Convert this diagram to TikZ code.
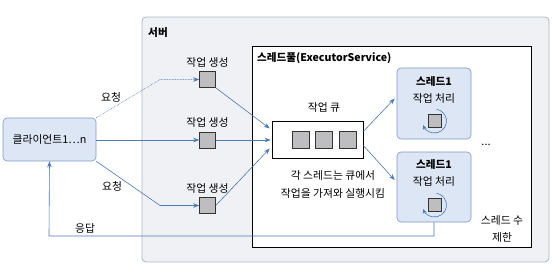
\documentclass[tikz,border=0pt]{standalone}
\usepackage{fontspec}
\setmainfont{Noto Sans CJK KR}
\usetikzlibrary{arrows.meta,calc}
\definecolor{arr}{HTML}{4A7AB8}
\definecolor{srvfill}{HTML}{EFF1F5}
\definecolor{srvdraw}{HTML}{A9B5C9}
\definecolor{bluefill}{HTML}{DDE6F4}
\definecolor{bluedraw}{HTML}{7D99C3}
\definecolor{sqfill}{HTML}{BEBEC0}
\begin{document}
\begin{tikzpicture}[x=1pt,y=-1pt,
  txt/.style={font=\fontsize{10.8}{12}\selectfont, inner sep=0pt},
  btxt/.style={font=\fontsize{10.6}{12}\selectfont\bfseries, inner sep=0pt},
  sq/.style={draw=black!80, fill=sqfill, line width=0.6pt, minimum size=16pt, inner sep=0pt},
  ssq/.style={draw=black!80, fill=sqfill, line width=0.6pt, minimum size=13pt, inner sep=0pt},
  bluebox/.style={draw=bluedraw, fill=bluefill, rounded corners=4pt, line width=0.6pt},
  conn/.style={draw=arr, line width=0.6pt, -{Stealth[length=6pt,width=4.5pt]}},
]
\useasboundingbox (0,0) rectangle (555,268);
% server
\draw[draw=srvdraw, fill=srvfill, rounded corners=4pt, line width=0.8pt] (142,17) rectangle (549,262);
\node[btxt] (srv) at (158,33) {서버};
% pool
\draw[draw=black, fill=white, line width=0.6pt] (252,46) rectangle (531,247);
\node[btxt, anchor=west] (pool) at (257,58) {스레드풀(ExecutorService)};
% client
\node[bluebox, minimum width=93pt, minimum height=43pt, inner sep=0pt] (client) at (49.5,139.5) {};
\node[txt] (clienttxt) at (49.5,139.5) {클라이언트1…n};
% generators
\node[sq] (g1) at (207.5,79.5) {};
\node[sq] (g2) at (207.5,140) {};
\node[sq] (g3) at (207.5,205.5) {};
\node[txt] (l1) at (207.5,62) {작업 생성};
\node[txt] (l2) at (207.5,122) {작업 생성};
\node[txt] (l3) at (207.5,188) {작업 생성};
% queue
\node[draw=black, fill=white, line width=0.6pt, minimum width=91pt, minimum height=37pt, inner sep=0pt] (queue) at (317.5,139.5) {};
\node[sq, minimum size=17pt] (q1) at (301,139.5) {};
\node[sq, minimum size=17pt] (q2) at (324,139.5) {};
\node[sq, minimum size=17pt] (q3) at (348,139.5) {};
\node[txt] (qlabel) at (324,107) {작업 큐};
% threads
\node[bluebox, minimum width=74pt, minimum height=71pt, inner sep=0pt] (t1) at (434,103.5) {};
\node[btxt] (t1a) at (434,82) {스레드1};
\node[txt] (t1b) at (434,98) {작업 처리};
\node[ssq] (t1s) at (434.5,121) {};
\node[bluebox, minimum width=74pt, minimum height=70pt, inner sep=0pt] (t2) at (434,187) {};
\node[btxt] (t2a) at (434,165) {스레드1};
\node[txt] (t2b) at (434,181) {작업 처리};
\node[ssq] (t2s) at (434.5,205) {};
\draw[draw=arr, line width=0.6pt, -{Stealth[length=4.5pt,width=4pt]}] ($(t1s)+(-80:12)$) arc[start angle=-80, end angle=160, radius=12];
\draw[draw=arr, line width=0.6pt, -{Stealth[length=4.5pt,width=4pt]}] ($(t2s)+(-80:12)$) arc[start angle=-80, end angle=160, radius=12];
% texts
\node[txt] (dots) at (486,145) {...};
\node[txt] (lim1) at (502,220) {스레드 수};
\node[txt] (lim2) at (502,237) {제한};
\node[txt] (ex1) at (333,175) {각 스레드는 큐에서};
\node[txt] (ex2) at (333,193) {작업을 가져와 실행시킴};
\node[txt] (req1) at (111,97) {요청};
\node[txt] (req2) at (112,186) {요청};
\node[txt] (resp) at (85,228) {응답};
% connectors
\coordinate (c1) at (160,79.5);
\coordinate (c3) at (160,205.5);
\draw[conn, densely dotted] (client.north east) -- (c1) -- (g1.west);
\draw[conn] (client.east |- g2) -- (g2.west);
\draw[conn] (client.south east) -- (c3) -- (g3.west);
\draw[conn] (g1.south east) -- ($(queue.west)+(-2,-11)$);
\draw[conn] (g2.east) -- ($(queue.west)+(-1,0.5)$);
\draw[conn] (g3.east) -- ($(queue.west)+(-2,9)$);
\draw[conn] ($(queue.east)+(0,-8)$) -- ($(t1.west)+(-2,-5)$);
\draw[conn] ($(queue.east)+(0,6)$) -- ($(t2.west)+(-2,-7)$);
\coordinate (r1) at (434,236);
\coordinate (r2) at (49,236);
\draw[conn] (t2.south) -- (r1) -- (r2) -- (client.south);
\end{tikzpicture}
\end{document}
